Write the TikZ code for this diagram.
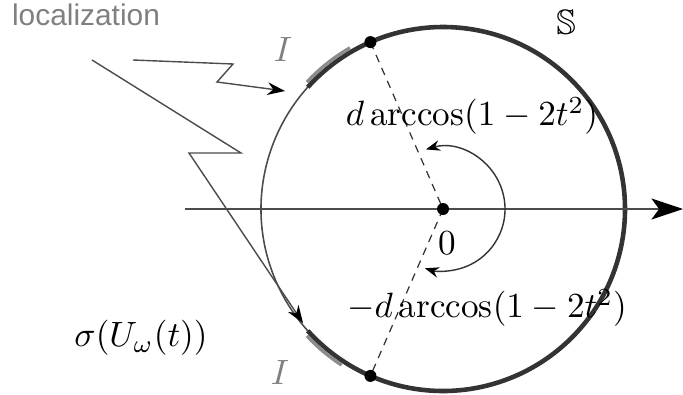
\documentclass[tikz,border=0pt]{standalone}
\usepackage{amssymb}
\usepackage{fontspec}
\newfontfamily\labelfont{Liberation Sans}
\usetikzlibrary{arrows.meta,calc}

\begin{document}
\begin{tikzpicture}[x=0.01cm, y=0.01cm,
    thinline/.style={line width=0.45pt, black!70},
    spectrum/.style={line width=1.3pt, black!80},
    interval/.style={line width=1pt, black!45},
    radius line/.style={line width=0.35pt, black!80, dash pattern=on 2.2pt off 1.8pt},
    bolt/.style={line width=0.4pt, black!70, -{Stealth[length=5pt, width=3.6pt, black]}},
    dot/.style={black},
    graytext/.style={text=black!50}]

    \useasboundingbox (0,0) rectangle (683,-394);

    % Circle: centre and radius 182
    \coordinate (O) at (443,-209);
    \coordinate (ptop) at ($(O)+(113.5:182)$);
    \coordinate (pbot) at ($(O)+(-113.5:182)$);

    % Thin part of the circle (left)
    \draw[thinline] (O) ++(113.5:182) arc[start angle=113.5, end angle=246.5, radius=182];
    % Thick part of the circle (spectrum)
    \draw[spectrum] (O) ++(138:182) arc[start angle=138, end angle=-138, radius=182];

    % Intervals I
    \draw[interval] (O) ++(137:186) arc[start angle=137, end angle=120, radius=186];
    \draw[interval] (O) ++(-137:186) arc[start angle=-137, end angle=-123, radius=186];

    % Axis
    \coordinate (axleft) at (185,-209);
    \coordinate (axright) at (683,-209);
    \draw[line width=0.45pt, black!70, -{Stealth[length=9pt, width=6pt, inset=2.2pt, black]}] (axleft) -- (axright);

    % Dashed radii
    \draw[radius line] (ptop) -- (O);
    \draw[radius line] (O) -- (pbot);

    % Angle arc
    \draw[line width=0.4pt, black!80, {Stealth[length=4pt, width=3pt, black]}-{Stealth[length=4pt, width=3pt, black]}]
        (O) ++(106:62) arc[start angle=106, end angle=-107, radius=62];

    % Points
    \fill[dot] (O) circle (6);
    \fill[dot] (ptop) circle (6);
    \fill[dot] (pbot) circle (6);

    % Localization arrows
    \coordinate (z1) at (133,-60);
    \coordinate (z2) at (233,-64);
    \coordinate (z3) at (217,-82);
    \coordinate (z4) at (285,-91);
    \draw[bolt] (z1) -- (z2) -- (z3) -- (z4);

    \coordinate (w1) at (92,-60);
    \coordinate (w2) at (241,-153);
    \coordinate (w3) at (189,-153);
    \coordinate (w4) at (303,-323);
    \draw[bolt] (w1) -- (w2) -- (w3) -- (w4);

    % Labels
    \node[graytext, font=\labelfont\fontsize{8.5}{10}\selectfont] (loc) at (86,-15) {localization};
    \node (S) at (566,-22) {$\mathbb{S}$};
    \node[graytext] (Itop) at (283,-49) {$I$};
    \node[graytext] (Ibot) at (280,-372) {$I$};
    \node (upper) at (472,-116) {$d\arccos(1-2t^2)$};
    \node (zero) at (447,-243) {$0$};
    \node (lower) at (487,-308) {$-d\arccos(1-2t^2)$};
    \node (sigma) at (141,-338) {$\sigma(U_\omega(t))$};

\end{tikzpicture}
\end{document}
